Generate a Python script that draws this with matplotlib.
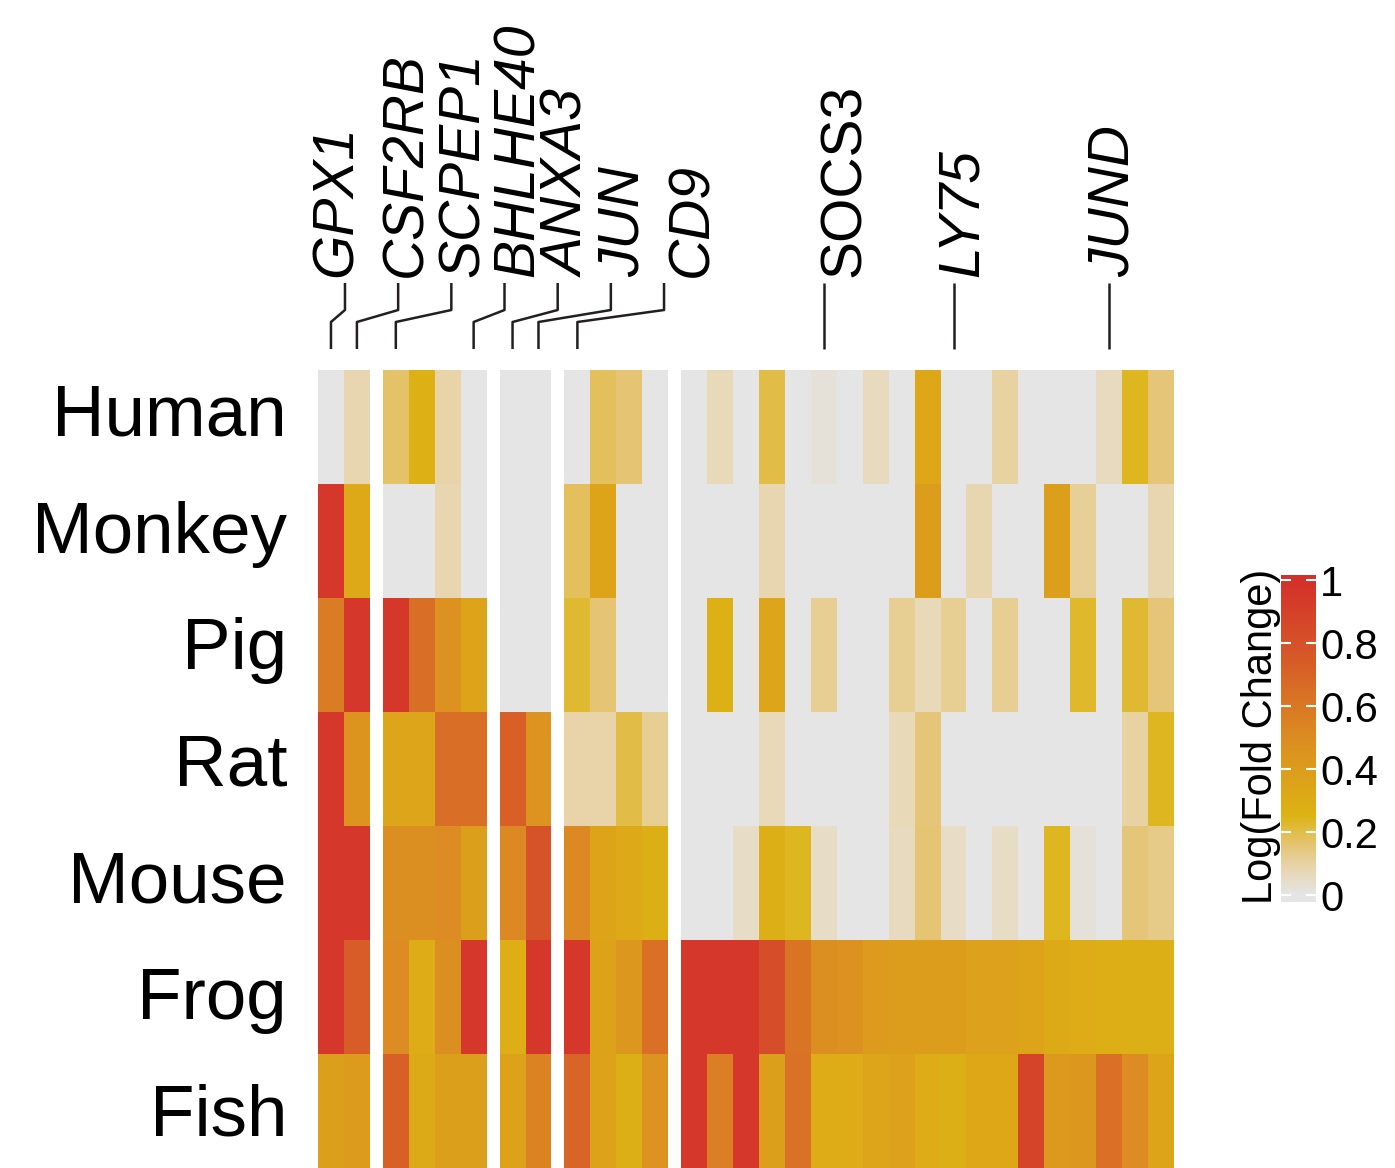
import numpy as np
import matplotlib
matplotlib.use("Agg")
import matplotlib.pyplot as plt
from matplotlib.colors import LinearSegmentedColormap, Normalize

plt.rcParams['font.family'] = ['Liberation Sans', 'DejaVu Sans']

# ---- data ----
species = ["Human", "Monkey", "Pig", "Rat", "Mouse", "Frog", "Fish"]
group_sizes = [2, 4, 2, 4, 19]

human = [0, 0.08, 0.17, 0.27, 0.09, 0, 0, 0, 0, 0.18, 0.16, 0,
         0, 0.07, 0, 0.20, 0, 0.02, 0, 0.06, 0, 0.33, 0, 0, 0.10, 0, 0, 0, 0.06, 0.24, 0.15]
monkey = [0.95, 0.32, 0, 0, 0.08, 0, 0, 0, 0.18, 0.35, 0, 0,
          0, 0, 0, 0.08, 0, 0, 0, 0, 0, 0.40, 0, 0.08, 0, 0, 0.38, 0.11, 0, 0, 0.08]
pig = [0.58, 0.95, 0.95, 0.65, 0.47, 0.35, 0, 0, 0.22, 0.16, 0, 0,
       0, 0.27, 0, 0.34, 0, 0.12, 0, 0, 0.12, 0.07, 0.12, 0, 0.12, 0, 0, 0.23, 0, 0.22, 0.15]
rat = [0.95, 0.45, 0.34, 0.34, 0.65, 0.65, 0.72, 0.46, 0.09, 0.09, 0.20, 0.12,
       0, 0, 0, 0.07, 0, 0, 0, 0, 0.07, 0.15, 0, 0, 0, 0, 0, 0, 0, 0.10, 0.24]
mouse = [0.95, 0.95, 0.48, 0.48, 0.50, 0.38, 0.52, 0.80, 0.52, 0.35, 0.32, 0.28,
         0, 0, 0.05, 0.28, 0.24, 0.05, 0, 0, 0.06, 0.16, 0.05, 0, 0.05, 0, 0.24, 0.02, 0, 0.15, 0.13]
frog = [0.95, 0.74, 0.50, 0.30, 0.48, 0.95, 0.29, 0.95, 0.95, 0.36, 0.43, 0.64,
        0.95, 0.95, 0.95, 0.82, 0.62, 0.48, 0.47, 0.41, 0.40, 0.40, 0.40, 0.37, 0.37, 0.35, 0.31, 0.30, 0.29, 0.28, 0.28]
fish = [0.38, 0.41, 0.72, 0.31, 0.38, 0.38, 0.36, 0.55, 0.70, 0.36, 0.28, 0.46,
        0.95, 0.57, 0.95, 0.38, 0.63, 0.30, 0.30, 0.34, 0.37, 0.30, 0.28, 0.33, 0.33, 0.88, 0.42, 0.43, 0.64, 0.50, 0.35]

genes = ["GPX1", "CSF2RB", "SCPEP1", "BHLHE40", "ANXA3", "JUN", "CD9", "SOCS3", "LY75", "JUND"]
gene_cols = [0, 1, 2, 5, 6, 7, 8, 17, 22, 28]
gene_italic = [True, True, True, True, True, True, True, False, True, True]

tick_vals = [0, 0.2, 0.4, 0.6, 0.8, 1]
tick_labels = ["0", "0.2", "0.4", "0.6", "0.8", "1"]

values = np.array([human, monkey, pig, rat, mouse, frog, fish])

cmap = LinearSegmentedColormap.from_list("lfc", [
    (0.0, "#e5e5e5"), (0.08, "#e8d6b0"), (0.16, "#e5c470"), (0.25, "#ddb414"),
    (0.5, "#dc8c22"), (0.75, "#d75a28"), (1.0, "#d4302a")])
norm = Normalize(0, 1)

# ---- layout (pixels of a 1395x1168 canvas) ----
W, H = 1395, 1168
fig = plt.figure(figsize=(W / 100, H / 100), dpi=100)
ax = fig.add_axes([318 / W, 0, 856 / W, 798 / H])

gap = 0.5
col_centers = []
x0 = 0
start = 0
for n in group_sizes:
    edges = x0 + np.arange(n + 1)
    ax.pcolormesh(edges, np.arange(len(species) + 1), values[:, start:start + n],
                  cmap=cmap, norm=norm, shading='flat', edgecolors='face', linewidth=0)
    col_centers.extend(edges[:-1] + 0.5)
    x0 += n + gap
    start += n
ax.set_xlim(0, x0 - gap)
ax.set_ylim(len(species), 0)
ax.axis('off')

px_x = 856 / (x0 - gap)   # pixels per column unit
px_y = 798 / len(species)  # pixels per row unit

# row labels (spread a little wider than the rows, as in the original)
nrow = len(species)
for i, name in enumerate(species):
    shift = -17 + 16 * i / (nrow - 1)
    ax.text(-31 / px_x, i + 0.5 + (26 + shift) / px_y, name, ha='right', va='baseline',
            fontsize=52.5, clip_on=False)

# gene labels with connector lines
text_shift = [-14, 3, 7, 9, 6, 7, 23, 16, 4, -1]
y_low, y_k1, y_k2, y_top = -21 / px_y, -48 / px_y, -60 / px_y, -87 / px_y
y_text = -93 / px_y
for k, (g, c) in enumerate(zip(genes, gene_cols)):
    cx = col_centers[c]
    ux = 1.04 + 2.05 * k if k < 7 else cx
    ax.plot([cx, cx, ux, ux], [y_low, y_k1, y_k2, y_top], color='#231f20', lw=1.8,
            clip_on=False, solid_capstyle='butt')
    ax.text(ux + (text_shift[k] + 20.4) / px_x, y_text, g, rotation=90,
            rotation_mode='anchor', ha='left', va='baseline', fontsize=41,
            style='italic' if gene_italic[k] else 'normal', clip_on=False)

# colour bar
lo, hi = -0.022, 1.016
cax = fig.add_axes([1281 / W, 1 - 902 / H, 35 / W, 327 / H])
grad = np.linspace(lo, hi, 500)[:, None]
cax.imshow(grad, aspect='auto', cmap=cmap, norm=norm, origin='lower',
           extent=[0, 1, lo, hi])
cax.set_xlim(0, 1)
cax.set_ylim(lo, hi)
cax.set_xticks([])
cax.set_yticks(tick_vals)
cax.set_yticklabels(tick_labels)
cax.tick_params(axis='y', direction='in', left=True, right=True, labelleft=False,
                labelright=True, length=7, width=1.5, color='white', pad=3,
                labelsize=30)
for s in cax.spines.values():
    s.set_visible(False)
cax.text(-9 / 35, 0.505, "Log(Fold Change)", transform=cax.transAxes, rotation=90,
         rotation_mode='anchor', ha='center', va='baseline', fontsize=30)

fig.savefig("out.png", dpi=100, facecolor='white')
